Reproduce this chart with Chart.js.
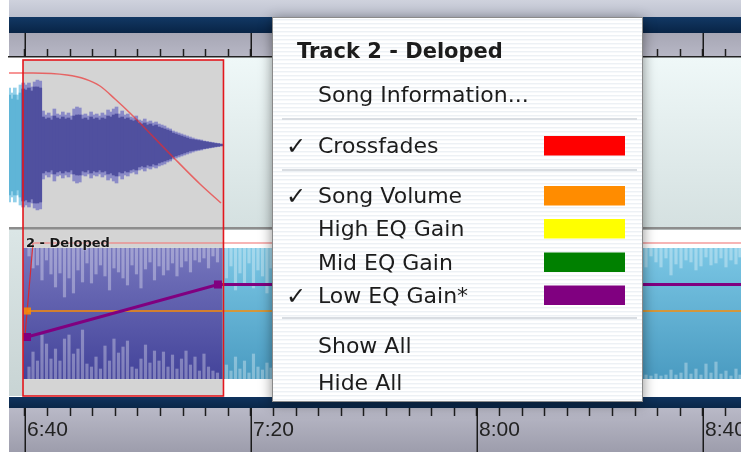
<!DOCTYPE html>
<html>
<head>
<meta charset="utf-8">
<script src="https://cdn.jsdelivr.net/npm/chart.js@4.4.1/dist/chart.umd.min.js"></script>
<style>
html, body { margin: 0; padding: 0; background: #fff; overflow: hidden; }
#wrap { position: relative; width: 741px; height: 452px; }
#daw { position: absolute; left: 0; top: 0; }
#menu { position: absolute; left: 272px; top: 17px; width: 371px; height: 385px; box-shadow: 0 2px 12px rgba(0,0,0,0.45); }
#menu svg { display: block; }
</style>
</head>
<body>
<div id="wrap">
  <canvas id="daw" width="741" height="452"></canvas>
  <div id="menu"></div>
</div>
<script>
"use strict";

// time axis (seconds)
var xMin = 397.17, xMax = 526.73;
var rulerTicks = [400, 404, 408, 412, 416, 420, 424, 428, 432, 436, 440, 444, 448, 452, 456, 460,
                  464, 468, 472, 476, 480, 484, 488, 492, 496, 500, 504, 508, 512, 516, 520, 524];
var majorTicks = [400, 440, 480, 520];
var majorLabels = ['6:40', '7:20', '8:00', '8:40'];

// clips and selected region (seconds)
var regionStart = 399.65, regionEnd = 435.13;
var clip1End = 435.22;
var clip2Start = 399.65;
var clip2Name = '2 - Deloped';

// track 1 waveform, one value per 0.5 s bin
var track1Start = 397.2, track1Bin = 0.5;
var track1Peak = [57, 52, 57, 50, 60,
    62, 60, 62, 58, 63, 65, 64,
    34, 30, 32, 29, 36, 31, 30, 33, 30, 32, 29, 36, 38, 37, 30, 31, 29, 33, 30, 31,
    29, 32, 30, 35, 33, 36, 38, 31, 34, 30, 31,
    28, 27, 29, 25, 24, 26, 23, 24, 22, 23, 21, 20, 19, 17, 16, 14, 13, 12, 11, 10,
    9, 8, 7, 6, 5.5, 5, 4, 3.5, 3, 2.5, 2, 1.5, 1];
var track1Body = [50, 46, 50, 45, 52,
    56, 55, 57, 54, 58, 58, 57,
    28, 26, 27, 25, 29, 27, 26, 28, 26, 27, 25, 29, 30, 30, 26, 27, 25, 28, 26, 27,
    25, 27, 26, 29, 28, 30, 31, 27, 28, 26, 27,
    25, 24, 25, 22, 21, 22, 20, 21, 19, 20, 18, 17, 16, 15, 14, 12, 11, 10, 9, 8,
    7, 6, 5.5, 5, 4.5, 4, 3.5, 3, 2.5, 2, 1.5, 1.2, 0.8];

// track 1 crossfade (fade out)
var fadeOutTimes = [397.17, 401.42, 407.43, 410.62, 413.27, 415.93, 418.58, 426.19, 430.97, 434.69];
var fadeOutLevels = [72, 72, 70, 66, 59, 46, 32, -12, -39, -58];

// track 2 waveform: full level plus lighter peak strips
var track2Peak = 65.5;
var stripTimes = [400.71, 401.42, 402.21, 403.01, 403.81, 404.60, 405.40, 406.19, 406.99, 407.79,
    408.58, 409.38, 410.18, 410.97, 411.77, 412.57, 413.36, 414.16, 414.96, 415.75,
    416.55, 417.35, 418.14, 418.94, 419.73, 420.53, 421.33, 422.12, 422.92, 423.72,
    424.51, 425.31, 426.11, 426.90, 427.70, 428.50, 429.29, 430.09, 430.88, 431.68,
    432.48, 433.27, 434.07,
    435.66, 436.46, 437.26, 438.05, 438.85, 439.65, 440.44, 441.24, 442.04, 442.83, 443.54,
    509.91, 510.80, 511.68, 512.57, 513.45, 514.34, 515.22, 516.11, 516.99, 517.88,
    518.76, 519.65, 520.53, 521.42, 522.30, 523.19, 524.07, 524.96, 525.84, 526.55];
var stripTop = [8, 20, 17, 32, 12, 26, 39, 25, 49, 30,
    45, 22, 34, 15, 35, 26, 17, 28, 42, 20,
    24, 30, 37, 17, 26, 40, 21, 14, 32, 18,
    27, 22, 15, 28, 19, 13, 24, 12, 14, 10,
    20, 8, 14,
    30, 18, 42, 25, 35, 15, 40, 22, 28, 45, 20,
    19, 8, 14, 19, 10, 27, 16, 20, 12, 14,
    22, 18, 9, 17, 15, 10, 19, 12, 16, 9];
var stripBottom = [12, 27, 18, 44, 35, 20, 30, 18, 40, 44,
    25, 30, 49, 15, 12, 22, 10, 33, 18, 40,
    26, 32, 38, 12, 10, 20, 34, 16, 28, 18,
    27, 12, 24, 10, 20, 28, 14, 22, 8, 25,
    12, 8, 6,
    14, 8, 22, 10, 18, 6, 25, 12, 9, 16, 11,
    4, 3, 5, 3, 4, 9, 4, 6, 16, 5,
    10, 4, 15, 6, 17, 5, 8, 3, 10, 4];

// track 2 envelopes
var fadeInTimes = [400.0, 401.42, 527];
var fadeInLevels = [-22.5, 70.5, 70.5];
var volumeTimes = [400.44, 527];
var volumeLevels = [2.5, 2.5];
var lowEqTimes = [400.35, 434.16, 527];
var lowEqLevels = [-23.5, 29, 29];

// menu / legend
var menuTitle = 'Track 2 - Deloped';
var menuInfo = 'Song Information...';
var seriesNames = ['Crossfades', 'Song Volume', 'High EQ Gain', 'Mid EQ Gain', 'Low EQ Gain*'];
var seriesColors = ['#ff0000', '#ff8c00', '#ffff00', '#008000', '#800080'];
var seriesChecked = [true, true, false, false, true];
var menuFooter = ['Show All', 'Hide All'];

function pts(xs, ys) {
    return xs.map(function (x, i) { return {x: x, y: ys[i]}; });
}

function vgrad(ctx, y0, y1, c0, c1) {
    var g = ctx.createLinearGradient(0, y0, 0, y1);
    g.addColorStop(0, c0);
    g.addColorStop(1, c1);
    return g;
}

// gradient fill for the track 2 body, built from the t2 lane
function bodyFill(top, bottom) {
    return function (c) {
        var chart = c.chart;
        if (!chart.chartArea || !chart.scales.t2) { return top; }
        var s = chart.scales.t2;
        return vgrad(chart.ctx, s.getPixelForValue(track2Peak), s.getPixelForValue(-track2Peak), top, bottom);
    };
}

var track1Times = track1Peak.map(function (_, i) { return track1Start + i * track1Bin; });
var track1Color = function (outside, inside) {
    return function (c) {
        return c.raw && c.raw.x >= regionStart ? inside : outside;
    };
};

var dawPlugin = {
    id: 'daw',
    beforeDraw: function (chart) {
        var ctx = chart.ctx, x = chart.scales.x, xTop = chart.scales.xTop,
            t1 = chart.scales.t1, t2 = chart.scales.t2;
        var L = x.left, R = chart.width, W = R - L;
        ctx.save();
        ctx.fillStyle = '#ffffff';
        ctx.fillRect(0, 0, chart.width, chart.height);
        // window strip, navy bar, top ruler
        ctx.fillStyle = vgrad(ctx, 0, 17, '#cfd2dd', '#bdc1cf');
        ctx.fillRect(L, 0, W, 17);
        ctx.fillStyle = vgrad(ctx, 17, xTop.top, '#123864', '#082446');
        ctx.fillRect(L, 17, W, xTop.top - 17);
        ctx.fillStyle = vgrad(ctx, xTop.top, xTop.bottom, '#a7a7b5', '#b7b7c5');
        ctx.fillRect(L, xTop.top, W, xTop.bottom - xTop.top);
        // lane 1
        var c1Bot = t1.getPixelForValue(-82);
        ctx.fillStyle = vgrad(ctx, t1.top, t1.bottom, '#eff8f8', '#d4e0e0');
        ctx.fillRect(L, t1.top, W, t1.bottom - t1.top);
        var c1R = x.getPixelForValue(clip1End);
        ctx.fillStyle = '#ffffff';
        ctx.fillRect(L, t1.top, c1R - L, c1Bot - t1.top);
        // lane 2
        var c2L = x.getPixelForValue(clip2Start), c2Bot = t2.getPixelForValue(-82.5);
        ctx.fillStyle = vgrad(ctx, t2.top, c2Bot, '#dbe6e6', '#c8d4d4');
        ctx.fillRect(L, t2.top, c2L - L, c2Bot - t2.top);
        ctx.fillStyle = '#ffffff';
        ctx.fillRect(c2L, t2.top, R - c2L, c2Bot - t2.top);
        // selected region
        var rL = x.getPixelForValue(regionStart), rR = x.getPixelForValue(regionEnd);
        var rT = t1.getPixelForValue(85);
        ctx.fillStyle = '#d4d4d4';
        ctx.fillRect(rL, rT, rR - rL, c2Bot - rT);
        // lane separator
        ctx.fillStyle = '#8d8d8d';
        ctx.fillRect(L, c1Bot, W, 2.5);
        // navy bar and bottom ruler
        var nT = t2.getPixelForValue(-83.5);
        ctx.fillStyle = vgrad(ctx, nT, t2.bottom, '#0f335e', '#0a2748');
        ctx.fillRect(L, nT, W, t2.bottom - nT);
        ctx.fillStyle = vgrad(ctx, x.top, x.bottom, '#b9b9c7', '#9d9dac');
        ctx.fillRect(L, x.top, W, x.bottom - x.top);
        ctx.restore();
    },
    afterDatasetsDraw: function (chart) {
        var ctx = chart.ctx, x = chart.scales.x, t1 = chart.scales.t1, t2 = chart.scales.t2;
        var rL = x.getPixelForValue(regionStart), rR = x.getPixelForValue(regionEnd);
        var rT = t1.getPixelForValue(85), rB = t2.getPixelForValue(-82.5);
        ctx.save();
        ctx.strokeStyle = '#e3171d';
        ctx.lineWidth = 1.6;
        ctx.strokeRect(rL, rT, rR - rL, rB - rT);
        ctx.font = 'bold 13px "DejaVu Sans"';
        ctx.fillStyle = '#151515';
        ctx.shadowColor = 'rgba(255,255,255,0.7)';
        ctx.shadowBlur = 2;
        ctx.fillText(clip2Name, x.getPixelForValue(clip2Start) + 3, t2.getPixelForValue(67));
        ctx.restore();
    },
    afterDraw: function (chart) {
        var ctx = chart.ctx, x = chart.scales.x, xTop = chart.scales.xTop;
        ctx.save();
        ctx.strokeStyle = '#1a1a1a';
        ctx.lineWidth = 1.5;
        majorTicks.forEach(function (v) {
            var px = Math.round(x.getPixelForValue(v)) + 0.25;
            ctx.beginPath();
            ctx.moveTo(px, xTop.top); ctx.lineTo(px, xTop.bottom);
            ctx.moveTo(px, x.top); ctx.lineTo(px, x.bottom);
            ctx.stroke();
        });
        ctx.restore();
    }
};

var rulerAxis = function (position) {
    return {
        type: 'linear',
        position: position,
        min: xMin,
        max: xMax,
        offset: false,
        afterBuildTicks: function (s) { s.ticks = rulerTicks.map(function (v) { return {value: v}; }); },
        afterFit: function (s) {
            s.height = position === 'top' ? 24 : 44;
            s.paddingLeft = 0;
            s.paddingRight = 0;
        },
        grid: {offset: false, drawOnChartArea: false, drawTicks: true, tickLength: 8, tickColor: '#1e1e1e', tickWidth: 1.5},
        border: {display: position === 'top', color: '#222', width: 1.5},
        ticks: {
            display: position !== 'top',
            autoSkip: false,
            maxRotation: 0,
            minRotation: 0,
            align: 'start',
            labelOffset: 2,
            padding: 2,
            color: '#222',
            font: {family: '"Liberation Sans", Arial, sans-serif', size: 21},
            callback: function (v) {
                var i = majorTicks.indexOf(v);
                return i < 0 ? '' : majorLabels[i];
            }
        }
    };
};

var lineBase = {type: 'line', xAxisID: 'x', pointRadius: 0, tension: 0, fill: false};

new Chart(document.getElementById('daw'), {
    type: 'line',
    data: {
        datasets: [
            // track 2 body (blue, then purple in the region)
            Object.assign({}, lineBase, {
                yAxisID: 't2', order: 30, borderWidth: 0,
                data: pts([clip2Start, xMax + 1], [track2Peak, track2Peak]),
                fill: {value: -track2Peak},
                backgroundColor: bodyFill('#7bc7e5', '#4a9bc1')
            }),
            Object.assign({}, lineBase, {
                yAxisID: 't2', order: 29, borderWidth: 0,
                data: pts([regionStart, regionEnd - 0.2], [track2Peak, track2Peak]),
                fill: {value: -track2Peak},
                backgroundColor: bodyFill('#7676bd', '#43439a')
            }),
            {
                type: 'bar', xAxisID: 'x', yAxisID: 't2', order: 25, grouped: false, barThickness: 2.5,
                data: stripTimes.map(function (t, i) { return {x: t, y: [track2Peak - stripTop[i], track2Peak]}; }),
                backgroundColor: 'rgba(255,255,255,0.32)', borderWidth: 0
            },
            {
                type: 'bar', xAxisID: 'x', yAxisID: 't2', order: 25, grouped: false, barThickness: 2.5,
                data: stripTimes.map(function (t, i) { return {x: t, y: [-track2Peak, -track2Peak + stripBottom[i]]}; }),
                backgroundColor: 'rgba(255,255,255,0.32)', borderWidth: 0
            },
            // track 1 waveform
            {
                type: 'bar', xAxisID: 'x', yAxisID: 't1', order: 21, grouped: false, barThickness: 3,
                data: track1Times.map(function (t, i) { return {x: t, y: [-track1Peak[i], track1Peak[i]]}; }),
                backgroundColor: track1Color('#93d0e9', '#8b8bc7'), borderWidth: 0
            },
            {
                type: 'bar', xAxisID: 'x', yAxisID: 't1', order: 20, grouped: false, barThickness: 3,
                data: track1Times.map(function (t, i) { return {x: t, y: [-track1Body[i], track1Body[i]]}; }),
                backgroundColor: track1Color('#5fb5d7', '#50509f'), borderWidth: 0
            },
            // track 1 crossfade
            Object.assign({}, lineBase, {
                yAxisID: 't1', order: 5, borderWidth: 1.5,
                cubicInterpolationMode: 'monotone',
                borderColor: 'rgba(240,40,40,0.65)',
                data: pts(fadeOutTimes, fadeOutLevels)
            }),
            // track 2 crossfade
            Object.assign({}, lineBase, {
                yAxisID: 't2', order: 4, borderWidth: 2,
                borderColor: 'rgba(240,120,120,0.55)',
                segment: {
                    borderColor: function (c) { return c.p0DataIndex === 0 ? 'rgba(230,30,30,0.85)' : 'rgba(240,120,120,0.55)'; },
                    borderWidth: function (c) { return c.p0DataIndex === 0 ? 1.2 : 2; }
                },
                data: pts(fadeInTimes, fadeInLevels)
            }),
            // song volume
            Object.assign({}, lineBase, {
                yAxisID: 't2', order: 3, borderWidth: 2,
                borderColor: 'rgba(255,140,0,0.72)',
                pointStyle: 'rect',
                pointRadius: function (c) { return c.dataIndex === 0 ? 5 : 0; },
                pointBackgroundColor: 'rgba(255,140,0,0.85)', pointBorderWidth: 0,
                data: pts(volumeTimes, volumeLevels)
            }),
            // low EQ gain
            Object.assign({}, lineBase, {
                yAxisID: 't2', order: 2, borderWidth: 3,
                borderColor: seriesColors[4],
                pointStyle: 'rect',
                pointRadius: function (c) { return c.dataIndex < 2 ? 5.7 : 0; },
                pointBackgroundColor: seriesColors[4], pointBorderWidth: 0,
                data: pts(lowEqTimes, lowEqLevels)
            })
        ]
    },
    options: {
        responsive: false,
        animation: false,
        events: [],
        layout: {autoPadding: false, padding: {top: 33, left: 9, right: 0, bottom: 0}},
        plugins: {legend: {display: false}, tooltip: {enabled: false}},
        scales: {
            x: rulerAxis('bottom'),
            xTop: rulerAxis('top'),
            t1: {type: 'linear', display: false, position: 'left', stack: 'lanes', stackWeight: 173, weight: 2, min: -85, max: 88},
            t2: {type: 'linear', display: false, position: 'left', stack: 'lanes', stackWeight: 178, weight: 1, min: -94.5, max: 83.5}
        }
    },
    plugins: [dawPlugin]
});

// context menu, built from the series lists
function svgEl(tag, attrs, text) {
    var e = document.createElementNS('http://www.w3.org/2000/svg', tag);
    Object.keys(attrs).forEach(function (k) { e.setAttribute(k, attrs[k]); });
    if (text) { e.textContent = text; }
    return e;
}
var menu = svgEl('svg', {width: 371, height: 385, viewBox: '0 0 371 385'});
var defs = svgEl('defs', {});
var pat = svgEl('pattern', {id: 'pin', width: 4, height: 4, patternUnits: 'userSpaceOnUse'});
pat.appendChild(svgEl('rect', {width: 4, height: 4, fill: '#ffffff'}));
pat.appendChild(svgEl('rect', {y: 2, width: 4, height: 1.4, fill: '#edf1f5'}));
defs.appendChild(pat);
menu.appendChild(defs);
menu.appendChild(svgEl('rect', {x: 0.5, y: 0.5, width: 370, height: 384, fill: 'url(#pin)', stroke: '#8a8a8a', 'stroke-width': 1}));

var font = {'font-family': 'DejaVu Sans', 'font-size': 22, fill: '#1c1c1c'};
menu.appendChild(svgEl('text', Object.assign({}, font, {x: 25, y: 41, 'font-weight': 'bold', 'font-size': 21}), menuTitle));
menu.appendChild(svgEl('text', Object.assign({}, font, {x: 46, y: 84.5}), menuInfo));
[101, 152, 300].forEach(function (y) {
    menu.appendChild(svgEl('rect', {x: 10, y: y, width: 355, height: 2, fill: '#d9dde2'}));
});
var rowBase = [136, 186, 219, 252.5, 285.5];
seriesNames.forEach(function (name, i) {
    if (seriesChecked[i]) {
        menu.appendChild(svgEl('text', Object.assign({}, font, {x: 14, y: rowBase[i] + 1, 'font-size': 24}), '\u2713'));
    }
    menu.appendChild(svgEl('text', Object.assign({}, font, {x: 46, y: rowBase[i]}), name));
    menu.appendChild(svgEl('rect', {x: 272, y: rowBase[i] - 17, width: 81, height: 19.5, fill: seriesColors[i]}));
});
[336, 373].forEach(function (y, i) {
    menu.appendChild(svgEl('text', Object.assign({}, font, {x: 46, y: y}), menuFooter[i]));
});
document.getElementById('menu').appendChild(menu);
</script>
</body>
</html>
